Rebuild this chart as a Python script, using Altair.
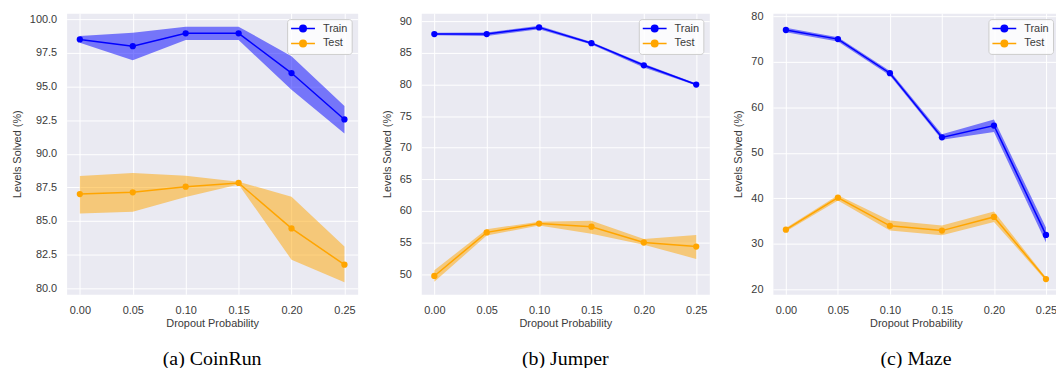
import altair as alt
import pandas as pd

probs = [0.00, 0.05, 0.10, 0.15, 0.20, 0.25]
series_names = ["Train", "Test"]
series_colors = ["#0000ff", "#ffa500"]

coinrun_train = [98.5, 98.0, 98.95, 98.95, 96.0, 92.55]
coinrun_train_lo = [98.25, 96.95, 98.45, 98.45, 94.75, 91.5]
coinrun_train_hi = [98.75, 99.0, 99.45, 99.45, 97.25, 93.55]
coinrun_test = [87.0, 87.13, 87.55, 87.83, 84.45, 81.75]
coinrun_test_lo = [85.55, 85.68, 86.79, 87.72, 82.12, 80.45]
coinrun_test_hi = [88.35, 88.56, 88.36, 87.92, 86.8, 83.1]

jumper_train = [88.0, 88.0, 89.05, 86.55, 83.05, 80.0]
jumper_train_lo = [87.8, 87.7, 88.75, 86.35, 82.7, 79.85]
jumper_train_hi = [88.2, 88.25, 89.3, 86.75, 83.3, 80.15]
jumper_test = [49.7, 56.6, 58.0, 57.5, 55.0, 54.35]
jumper_test_lo = [48.8, 56.1, 57.7, 56.4, 54.65, 52.4]
jumper_test_hi = [50.6, 57.1, 58.3, 58.45, 55.55, 56.2]

maze_train = [77.0, 75.0, 67.5, 53.4, 56.0, 31.95]
maze_train_lo = [76.5, 74.5, 67.0, 52.9, 54.6, 30.3]
maze_train_hi = [77.5, 75.4, 68.0, 54.1, 57.3, 33.6]
maze_test = [33.1, 40.15, 33.95, 32.9, 35.9, 22.25]
maze_test_lo = [32.7, 39.5, 32.9, 31.9, 34.8, 21.9]
maze_test_hi = [33.5, 40.7, 35.1, 34.0, 37.1, 22.6]

coinrun_ticks = [80.0, 82.5, 85.0, 87.5, 90.0, 92.5, 95.0, 97.5, 100.0]
jumper_ticks = [50, 55, 60, 65, 70, 75, 80, 85, 90]
maze_ticks = [20, 30, 40, 50, 60, 70, 80]

FONT = "Liberation Sans"
TXT = "#3a3a3a"
# legend glyph: 24px line with a dot in its middle (unit = 4.5px for symbolSize 81)
PATH = "M-1.222,0L4.111,0M2.167,0A0.722,0.722,0,1,1,0.722,0A0.722,0.722,0,1,1,2.167,0Z"


def frame(train, tlo, thi, test, slo, shi):
    rows = []
    for i, p in enumerate(probs):
        rows.append({"p": p, "series": "Train", "mean": train[i], "lo": tlo[i], "hi": thi[i]})
    for i, p in enumerate(probs):
        rows.append({"p": p, "series": "Test", "mean": test[i], "lo": slo[i], "hi": shi[i]})
    return pd.DataFrame(rows)


def mk_leg():
    return alt.Legend(title=None, orient="top-right", offset=6,
                      symbolType=PATH, symbolSize=81, symbolStrokeWidth=1.5, labelOffset=21,
                      labelFont=FONT, labelFontSize=11, labelColor=TXT,
                      fillColor="rgba(255,255,255,0.8)", strokeColor="#cccccc",
                      cornerRadius=3, padding=4, rowPadding=2)


def panel(df, caption, ydomain, yticks, yfmt, width):
    sc = alt.Scale(domain=series_names, range=series_colors)
    band_sc = alt.Scale(domain=series_names[::-1], range=series_colors[::-1])
    xax = alt.Axis(values=probs, format=".2f", title="Dropout Probability",
                   labelPadding=10, titlePadding=2, tickCount=6)
    xsc = alt.Scale(domain=[-0.0125, 0.2625], nice=False, zero=False)
    x = alt.X("p:Q", scale=xsc, axis=xax)
    yax = alt.Axis(values=yticks, format=yfmt, title="Levels Solved (%)",
                   labelPadding=10, titlePadding=7, tickCount=len(yticks))
    ysc = alt.Scale(domain=ydomain, nice=False, zero=False)
    base = alt.Chart(df)
    band = base.mark_area(opacity=0.5).encode(
        x=x,
        y=alt.Y("lo:Q", scale=ysc, axis=yax),
        y2="hi:Q",
        color=alt.Color("series:N", scale=band_sc, legend=None),
    )
    line = base.mark_line(strokeWidth=1.5).encode(
        x=x, y=alt.Y("mean:Q", scale=ysc, axis=yax),
        stroke=alt.Stroke("series:N", scale=sc, legend=mk_leg()),
    )
    pts = base.mark_point(filled=True, shape="circle", size=40, opacity=1).encode(
        x=x, y=alt.Y("mean:Q", scale=ysc, axis=yax),
        fill=alt.Fill("series:N", scale=sc, legend=mk_leg()),
    )
    return alt.layer(band, line, pts).properties(
        width=width, height=283,
        title=alt.TitleParams(text=caption, orient="bottom", font="Liberation Serif",
                              fontSize=20, fontWeight="normal", color="black", offset=21),
    )


pa = panel(frame(coinrun_train, coinrun_train_lo, coinrun_train_hi, coinrun_test, coinrun_test_lo, coinrun_test_hi),
           "(a) CoinRun", [79.55, 100.45], coinrun_ticks, ".1f", 293)
pb = panel(frame(jumper_train, jumper_train_lo, jumper_train_hi, jumper_test, jumper_test_lo, jumper_test_hi),
           "(b) Jumper", [46.8, 91.3], jumper_ticks, "d", 290)
pc = panel(frame(maze_train, maze_train_lo, maze_train_hi, maze_test, maze_test_lo, maze_test_hi),
           "(c) Maze", [18.9, 80.7], maze_ticks, "d", 288)

chart = alt.hconcat(pa, pb, pc, spacing=64, bounds="flush").resolve_scale(
    color="independent", fill="independent", stroke="independent", y="independent", x="independent"
).resolve_legend(fill="independent", stroke="independent").properties(
    padding={"left": 2, "top": 0, "right": -4, "bottom": -1}, background="white"
).configure_view(
    fill="#eaeaf2", stroke="transparent"
).configure_axis(
    domain=False, ticks=False, grid=True, gridColor="#ffffff", gridWidth=1,
    labelFont=FONT, labelFontSize=11, labelColor=TXT,
    titleFont=FONT, titleFontSize=11, titleColor=TXT, titleFontWeight="normal",
)

chart.save("out.html", embed_options={"renderer": "svg", "actions": False})
